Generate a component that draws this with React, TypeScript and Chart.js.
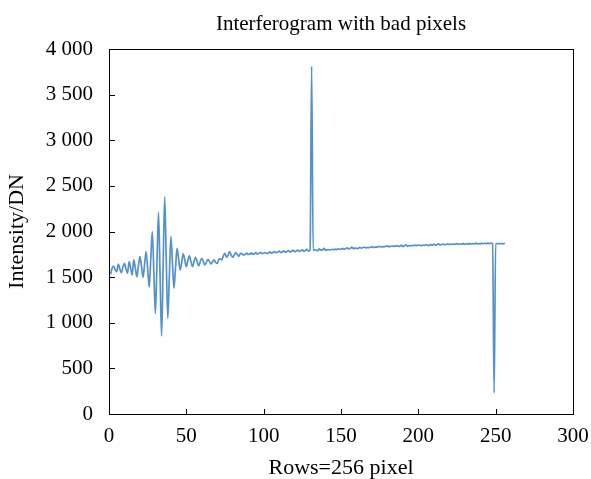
import React, { useEffect, useRef } from "react";
import { Chart, registerables } from "chart.js";

Chart.register(...registerables);

const chartTitle = "Interferogram with bad pixels";
const xTitle = "Rows=256 pixel";
const yTitle = "Intensity/DN";

const rows: number[] = Array.from({ length: 256 }, (_, i) => i + 1);

const intensity: number[] = [
  1530, 1600, 1622, 1580, 1560, 1644, 1590, 1549, 1610, 1652,
  1590, 1542, 1669, 1600, 1523, 1688, 1600, 1505, 1620, 1725,
  1620, 1498, 1640, 1780, 1590, 1390, 1700, 2000, 1550, 1100,
  1650, 2210, 1530, 855, 1620, 2380, 1710, 1050, 1500, 1945,
  1660, 1380, 1600, 1815, 1700, 1580, 1660, 1755, 1690, 1614,
  1680, 1732, 1670, 1614, 1670, 1717, 1670, 1622, 1670, 1706,
  1670, 1633, 1665, 1695, 1670, 1644, 1670, 1688, 1660, 1650,
  1695, 1700, 1690, 1735, 1761, 1717, 1740, 1779, 1740, 1717,
  1745, 1768, 1745, 1728, 1761, 1755, 1742, 1750, 1762, 1748,
  1752, 1765, 1750, 1755, 1768, 1752, 1760, 1772, 1758, 1762,
  1770, 1760, 1765, 1778, 1764, 1770, 1780, 1768, 1772, 1785,
  1770, 1775, 1788, 1772, 1780, 1790, 1775, 1782, 1795, 1778,
  1785, 1797, 1780, 1790, 1800, 1782, 1792, 1805, 1785, 1795,
  3810, 1790, 1800, 1795, 1790, 1810, 1795, 1798, 1815, 1796,
  1800, 1802, 1798, 1805, 1800, 1806, 1802, 1810, 1805, 1808,
  1815, 1806, 1812, 1822, 1808, 1815, 1830, 1810, 1820, 1815,
  1812, 1825, 1818, 1822, 1830, 1820, 1825, 1822, 1828, 1835,
  1824, 1830, 1828, 1832, 1838, 1830, 1834, 1832, 1838, 1842,
  1832, 1840, 1836, 1842, 1838, 1845, 1840, 1836, 1850, 1835,
  1844, 1855, 1838, 1846, 1842, 1848, 1845, 1850, 1846, 1852,
  1848, 1845, 1852, 1848, 1855, 1850, 1846, 1858, 1848, 1862,
  1850, 1855, 1865, 1852, 1858, 1862, 1855, 1860, 1866, 1856,
  1862, 1858, 1864, 1860, 1868, 1858, 1865, 1862, 1870, 1860,
  1866, 1862, 1870, 1864, 1868, 1862, 1872, 1865, 1868, 1864,
  1872, 1866, 1870, 1868, 1872, 1866, 1874, 1868, 230, 1868,
  1866, 1868, 1866, 1870, 1864, 1870,
];

const xTicks: number[] = [0, 50, 100, 150, 200, 250, 300];
const yTicks: number[] = [0, 500, 1000, 1500, 2000, 2500, 3000, 3500, 4000];

const FONT = "'Liberation Serif', 'Times New Roman', serif";

const fmt = (v: number) => {
  const s = String(Math.round(v));
  if (s.length <= 3) return s;
  return s.slice(0, s.length - 3) + " " + s.slice(s.length - 3);
};

const frame = {
  id: "frame",
  afterDraw(chart: any) {
    const { ctx, chartArea } = chart;
    const { left, right, top, bottom } = chartArea;
    ctx.save();
    ctx.strokeStyle = "#000";
    ctx.lineWidth = 1;
    ctx.strokeRect(Math.round(left) + 0.5, Math.round(top) + 0.5, Math.round(right - left), Math.round(bottom - top));
    const xs = chart.scales.x;
    const ys = chart.scales.y;
    ctx.beginPath();
    xTicks.forEach((t) => {
      const px = Math.round(xs.getPixelForValue(t)) + 0.5;
      ctx.moveTo(px, Math.round(bottom) + 0.5);
      ctx.lineTo(px, Math.round(bottom) - 5);
    });
    yTicks.forEach((t) => {
      const py = Math.round(ys.getPixelForValue(t)) + 0.5;
      ctx.moveTo(Math.round(left) + 0.5, py);
      ctx.lineTo(Math.round(left) + 6, py);
    });
    ctx.stroke();
    ctx.fillStyle = "#000";
    ctx.font = `21px ${FONT}`;
    ctx.textAlign = "center";
    ctx.textBaseline = "alphabetic";
    ctx.fillText(chartTitle, (left + right) / 2, 30);
    ctx.restore();
  },
};

export default function App() {
  const ref = useRef<HTMLCanvasElement | null>(null);
  useEffect(() => {
    if (!ref.current) return;
    const chart = new Chart(ref.current, {
      type: "line",
      data: {
        datasets: [
          {
            data: rows.map((r, i) => ({ x: r, y: intensity[i] })),
            borderColor: "#5592cb",
            borderWidth: 1.7,
            pointRadius: 0,
            cubicInterpolationMode: "monotone",
            fill: false,
          },
        ],
      },
      options: {
        animation: false,
        responsive: false,
        maintainAspectRatio: false,
        layout: { padding: { left: 0, right: 0, top: 49, bottom: 0 } },
        plugins: {
          legend: { display: false },
          tooltip: { enabled: false },
          title: { display: false },
        },
        scales: {
          x: {
            type: "linear",
            min: 0,
            max: 300,
            afterBuildTicks: (s: any) => {
              s.ticks = xTicks.map((v) => ({ value: v }));
            },
            afterFit: (s: any) => {
              s.height = 65;
              s.paddingRight = 18;
              s.paddingLeft = 0;
            },
            grid: { display: false, drawTicks: false },
            border: { display: true, color: "#000", width: 1 },
            ticks: {
              color: "#000",
              font: { family: FONT, size: 21 },
              padding: 10,
              maxRotation: 0,
              callback: (v: any) => String(v),
            },
            title: {
              display: true,
              text: xTitle,
              color: "#000",
              font: { family: FONT, size: 22 },
              padding: { top: 0, bottom: -2 },
            },
          },
          y: {
            type: "linear",
            min: 0,
            max: 4000,
            afterBuildTicks: (s: any) => {
              s.ticks = yTicks.map((v) => ({ value: v }));
            },
            afterFit: (s: any) => {
              s.width = 109;
            },
            grid: { display: false, drawTicks: false },
            border: { display: true, color: "#000", width: 1 },
            ticks: {
              color: "#000",
              font: { family: FONT, size: 21 },
              padding: 16,
              callback: (v: any) => fmt(Number(v)),
            },
            title: {
              display: true,
              text: yTitle,
              color: "#000",
              font: { family: FONT, size: 22 },
              padding: { top: 4, bottom: 0 },
            },
          },
        },
      },
      plugins: [frame],
    });
    return () => chart.destroy();
  }, []);
  return (
    <div style={{ position: "fixed", left: 0, top: 0, width: 591, height: 479, background: "#fff" }}>
      <canvas ref={ref} width={591} height={479} style={{ width: 591, height: 479, display: "block" }} />
    </div>
  );
}
